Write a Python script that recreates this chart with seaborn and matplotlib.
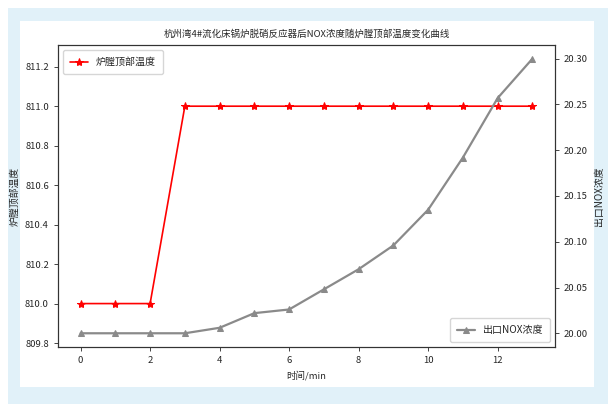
import numpy as np
import pandas as pd
import matplotlib
matplotlib.use("Agg")
import matplotlib.pyplot as plt
from matplotlib.patches import Rectangle
import seaborn as sns

# data
minutes = list(range(14))
furnace_temp = [810.0, 810.0, 810.0, 811.0, 811.0, 811.0, 811.0,
                811.0, 811.0, 811.0, 811.0, 811.0, 811.0, 811.0]
nox_conc = [20.000, 20.000, 20.000, 20.000, 20.006, 20.022, 20.026,
            20.048, 20.070, 20.096, 20.135, 20.192, 20.257, 20.300]

title = "杭州湾4#流化床锅炉脱硝反应器后NOX浓度随炉膛顶部温度变化曲线"
temp_label = "炉膛顶部温度"
nox_label = "出口NOX浓度"
x_label = "时间/min"

df = pd.DataFrame({"time": minutes, "temp": furnace_temp, "nox": nox_conc})

sns.set_style("ticks")
plt.rcParams['font.family'] = ['Noto Sans CJK SC', 'DejaVu Sans']
plt.rcParams['axes.unicode_minus'] = False
FS = 6.8

fig = plt.figure(figsize=(6.16, 4.12), dpi=100)
W, H = 616, 412
# light blue frame with white card
fig.patches.append(Rectangle((8 / W, 1 - 404 / H), 600 / W, 396 / H,
                             transform=fig.transFigure, facecolor="#e1f1f9",
                             edgecolor="none", zorder=-2))
fig.patches.append(Rectangle((20 / W, 1 - 387 / H), 574 / W, 366 / H,
                             transform=fig.transFigure, facecolor="white",
                             edgecolor="none", zorder=-1))

ax = fig.add_axes([58 / W, 1 - 347 / H, 497 / W, 302 / H])
ax.set_facecolor("white")
sns.lineplot(data=df, x="time", y="temp", ax=ax, color="red", marker="*",
             markersize=6, markeredgecolor="red", linewidth=1.2, label=temp_label)
ax.set_ylim(809.78, 811.31)
ax.set_yticks(np.arange(809.8, 811.25, 0.2))
ax.yaxis.set_major_formatter(matplotlib.ticker.FormatStrFormatter("%.1f"))
ax.set_xticks(range(0, 14, 2))
ax.set_xlabel(x_label, fontsize=FS)
ax.set_ylabel(temp_label, fontsize=FS + 0.3)
ax.set_title(title, fontsize=FS, pad=6)
ax.tick_params(labelsize=FS, length=3, width=0.6)
ax.legend(loc="upper left", fontsize=FS + 0.4, borderpad=0.7, handlelength=1.8)

ax2 = ax.twinx()
sns.lineplot(data=df, x="time", y="nox", ax=ax2, color="#8a8a8a", marker="^",
             markersize=5, markeredgecolor="#8a8a8a", linewidth=1.6, label=nox_label)
ax2.yaxis.set_major_formatter(matplotlib.ticker.FormatStrFormatter("%.2f"))
ax2.set_ylabel(nox_label, fontsize=FS + 0.3)
ax2.tick_params(labelsize=FS, length=3, width=0.6)
ax2.legend(loc="lower right", fontsize=FS + 0.4, borderpad=0.7, handlelength=1.8)

for a in (ax, ax2):
    for s in a.spines.values():
        s.set_linewidth(0.8)
        s.set_color("#333333")

fig.savefig("out.png", dpi=100, facecolor="white")
